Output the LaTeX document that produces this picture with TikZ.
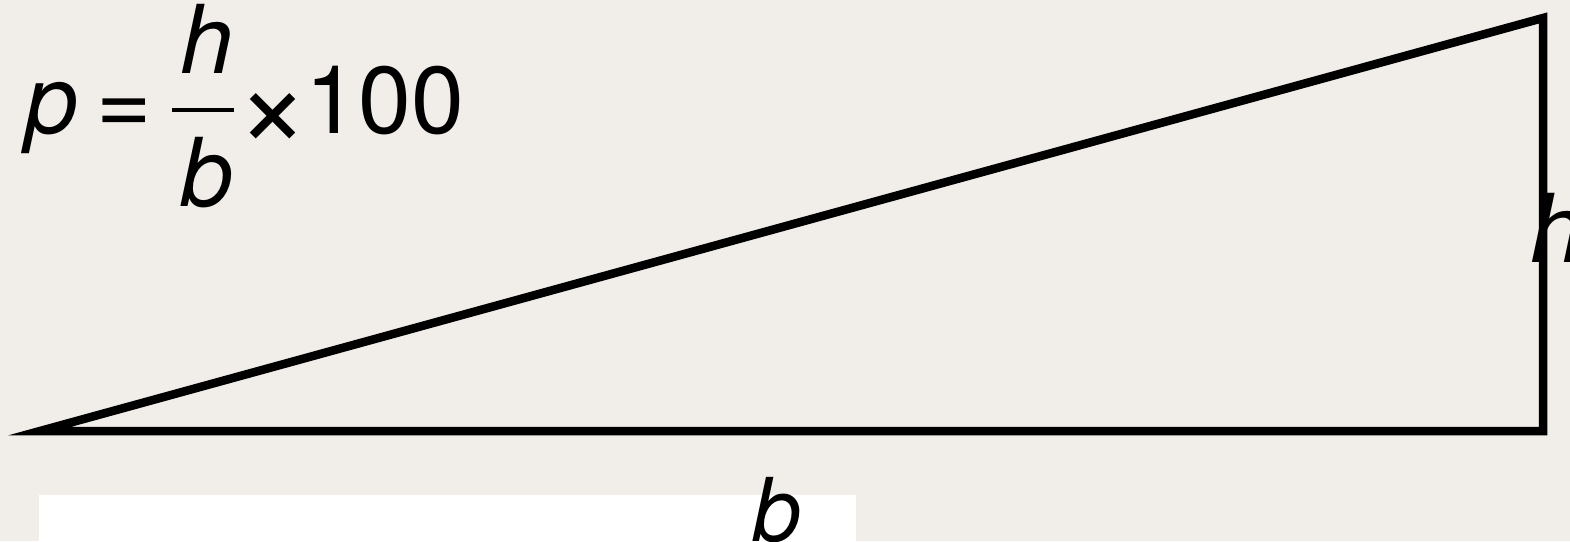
\documentclass[tikz,border=0pt]{standalone}
\usepackage{fontspec}
\setmainfont{TeX Gyre Heros}
\definecolor{bgcol}{RGB}{241,237,233}
\tikzset{
  big/.style={inner sep=0pt, outer sep=0pt, font=\fontsize{95}{95}\selectfont},
  bigit/.style={big, font=\fontsize{95}{95}\selectfont\itshape},
  edge/.style={line width=8.5pt, line join=miter, miter limit=12}
}
\begin{document}
\begin{tikzpicture}[x=1pt,y=-1pt]
\useasboundingbox (0,0) rectangle (1570,541);
\fill[bgcol] (0,0) rectangle (1570,541);
% white panel
\fill[white] (39,495) rectangle (856,545);
% triangle
\coordinate (A) at (40,431);
\coordinate (B) at (1543,431);
\coordinate (C) at (1543,18);
\draw[edge] (A) -- (B) -- (C) -- cycle;
% labels
\node[bigit, anchor=base west] (hl) at (1530,262) {h};
\node[bigit, anchor=base west, font=\fontsize{88}{88}\selectfont\itshape] (bl) at (752,541) {b};
% formula
\node[bigit, anchor=base west] (fp) at (25,133) {p};
\node[big, anchor=base] (feq) at (124,134) {=};
\node[bigit, anchor=base] (fh) at (207,73) {h};
\node[bigit, anchor=base] (fb) at (207,206) {b};
\coordinate (barL) at (172,109.5);
\coordinate (barR) at (234,109.5);
\draw[line width=4pt] (barL) -- (barR);
\node[big, anchor=base, font=\fontsize{125}{125}\selectfont] (ftimes) at (273,147) {×};
\node[big, anchor=base east] (fnum) at (464,133) {100};
\end{tikzpicture}
\end{document}
